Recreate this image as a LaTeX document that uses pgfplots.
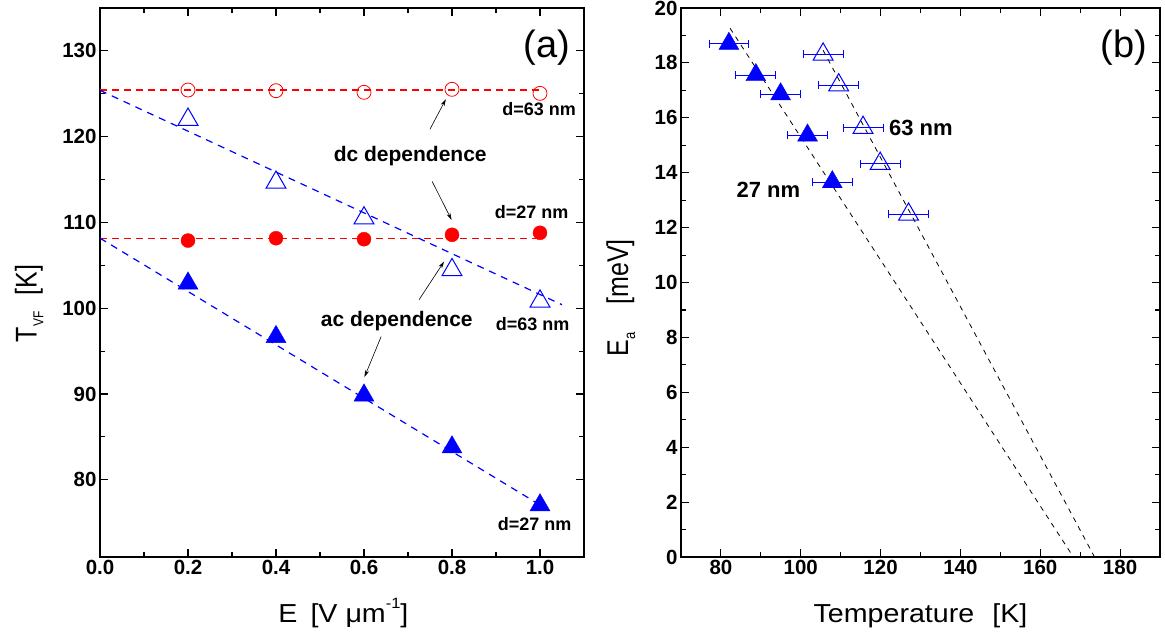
\documentclass[border=0pt]{standalone}
\usepackage{pgfplots}
\pgfplotsset{compat=1.18}
\usepackage{fontspec}
\setmainfont{Liberation Sans}
\newfontfamily\titlefont{Liberation Sans}[FakeStretch=1.1]
\usetikzlibrary{arrows.meta}
\definecolor{myblue}{RGB}{0,0,255}
\definecolor{myred}{RGB}{255,0,0}
\pgfplotsset{
  myax/.style={
    scale only axis, height=549pt,
    axis line style={line width=1.3pt},
    every tick/.style={line width=1.1pt, black},
    tick align=inside,
    major tick length=8pt, minor tick length=5pt,
    minor x tick num=1, minor y tick num=1,
    /pgf/number format/assume math mode=true,
    tick label style={font=\fontsize{20.5}{20.5}\selectfont\bfseries},
    xlabel style={font=\titlefont\fontsize{26}{26}\selectfont},
    ylabel style={font=\fontsize{25}{25}\selectfont},
    clip=false,
  },
  eb/.style={
    error bars/.cd, x dir=both, x explicit,
    error bar style={line width=0.8pt, draw=myblue, color=myblue},
    error mark options={rotate=90, mark size=4pt, line width=0.8pt, draw=myblue, color=myblue},
  },
}
\tikzset{
  ann/.style={font=\fontsize{21}{21}\selectfont\bfseries, anchor=base},
  dnm/.style={font=\fontsize{18}{18}\selectfont\bfseries, anchor=base},
  arr/.style={-{Stealth[length=7pt,width=4pt]}, line width=0.6pt, black},
}
\begin{document}
\begin{tikzpicture}
\useasboundingbox (0,0) rectangle (1165pt,638pt);
% ---------------- panel (a)
\begin{axis}[myax, at={(100pt,81pt)}, anchor=south west, width=484pt,
  xmin=0, xmax=1.1, ymin=71, ymax=135,
  xtick={0,0.2,0.4,0.6,0.8,1.0}, ytick={80,90,100,110,120,130},
  xticklabel style={/pgf/number format/.cd, fixed, fixed zerofill, precision=1},
  xlabel={E\hspace{0.5em}[V μm\raisebox{0.55em}{\fontsize{15}{15}\selectfont -1}]},
  ylabel={\scalebox{1}[1.2]{T\raisebox{-5.5pt}{\fontsize{12}{12}\selectfont VF}\hspace{16pt}[K]}},
  xlabel style={at={(axis description cs:0.503,0)}, anchor=base, yshift=-65.5pt},
  ylabel style={at={(axis description cs:-0.1308,0.4617)}, anchor=base},
]
\addplot[color=myred, line width=1.1pt, dash pattern=on 7pt off 5pt] coordinates {(0,108.17) (1.0,108.17)};
\addplot[color=myred, line width=1.1pt, dash pattern=on 7pt off 5pt] coordinates {(0,125.44) (1.0,125.44)};
\addplot[color=myblue, line width=1.2pt, dash pattern=on 7pt off 6pt] coordinates {(0,125.4) (1.05,100.41)};
\addplot[color=myblue, line width=1.2pt, dash pattern=on 7pt off 6pt] coordinates {(0,108.17) (1.0,77.07)};
\addplot[only marks, mark=o, mark size=7pt, color=myred, mark options={line width=0.8pt}] coordinates {
(0.2,125.44) (0.4,125.36) (0.6,125.17) (0.8,125.52) (1.0,125.05)};
\addplot[only marks, mark=*, mark size=7pt, color=myred] coordinates {
(0.2,107.89) (0.4,108.16) (0.6,108.05) (0.8,108.56) (1.0,108.79)};
\addplot[only marks, mark=triangle, mark size=11.5pt, color=myblue, mark options={line width=1pt}] coordinates {
(0.2,122.0) (0.4,114.66) (0.6,110.5) (0.8,104.47) (1.0,100.8)};
\addplot[only marks, mark=triangle*, mark size=11.5pt, color=myblue] coordinates {
(0.2,102.9) (0.4,96.67) (0.6,89.85) (0.8,83.8) (1.0,77.05)};
\node[font=\fontsize{38}{38}\selectfont, anchor=center] at (axis cs:1.015,130.35) {(a)};
\node[dnm] at (axis cs:0.998,122.5) {d=63 nm};
\node[ann] at (axis cs:0.705,117.1) {dc dependence};
\node[dnm] at (axis cs:0.981,110.5) {d=27 nm};
\node[ann] at (axis cs:0.6745,97.87) {ac dependence};
\node[dnm] at (axis cs:0.983,97.4) {d=63 nm};
\node[dnm] at (axis cs:0.988,74.1) {d=27 nm};
\draw[arr] (axis cs:0.750,120.87) -- (axis cs:0.786,124.37);
\draw[arr] (axis cs:0.755,114.77) -- (axis cs:0.799,110.3);
\draw[arr] (axis cs:0.725,100.98) -- (axis cs:0.782,105.44);
\draw[arr] (axis cs:0.639,96.7) -- (axis cs:0.601,91.97);
\end{axis}
% ---------------- panel (b)
\begin{axis}[myax, at={(681pt,81pt)}, anchor=south west, width=479pt,
  xmin=70, xmax=190, ymin=0, ymax=20,
  xtick={80,100,120,140,160,180}, ytick={0,2,4,6,8,10,12,14,16,18,20},
  xlabel={Temperature\hspace{0.7em}[K]},
  ylabel={\scalebox{1}[1.2]{E\raisebox{-6pt}{\fontsize{13}{13}\selectfont a}\hspace{28pt}[meV]}},
  xlabel style={at={(axis description cs:0.5,0)}, anchor=base, yshift=-65.5pt},
  ylabel style={at={(axis description cs:-0.1106,0.4723)}, anchor=base},
]
\addplot[color=black, line width=0.8pt, dash pattern=on 5pt off 5pt] coordinates {(82.3,19.26) (168.3,0)};
\addplot[color=black, line width=0.8pt, dash pattern=on 5pt off 5pt] coordinates {(105.6,18.46) (173.6,0)};
\addplot[only marks, mark=triangle*, mark size=11.5pt, color=myblue, eb]
  table[x=x, y=y, x error=e] {
x y e
82.0 18.70 5
88.75 17.56 5
94.95 16.86 5
101.7 15.36 5
107.9 13.66 5
};
\addplot[only marks, mark=triangle, mark size=11.5pt, color=myblue, mark options={line width=1pt}, eb]
  table[x=x, y=y, x error=e] {
x y e
105.6 18.31 5
109.5 17.19 5
115.6 15.64 5
119.9 14.33 5
127.0 12.48 5
};
\node[font=\fontsize{38}{38}\selectfont, anchor=center] at (axis cs:180.95,18.55) {(b)};
\node[font=\fontsize{22}{22}\selectfont\bfseries, anchor=base] at (axis cs:130.1,15.37) {63 nm};
\node[font=\fontsize{22}{22}\selectfont\bfseries, anchor=base] at (axis cs:91.9,13.11) {27 nm};
\end{axis}
\end{tikzpicture}
\end{document}
